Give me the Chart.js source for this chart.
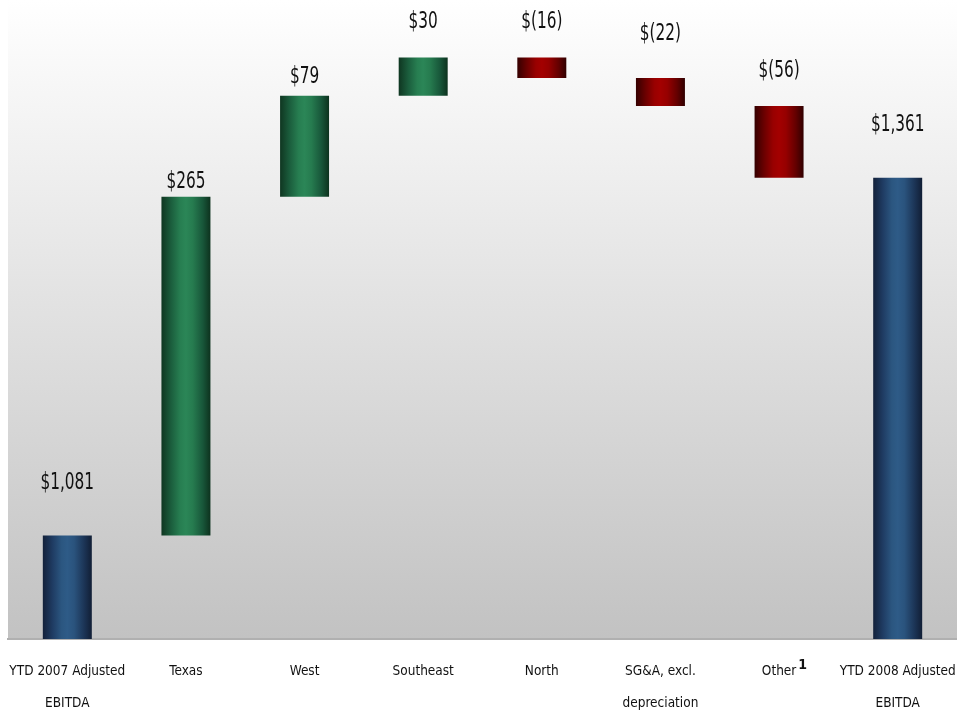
<!DOCTYPE html>
<html>
<head>
<meta charset="utf-8">
<script src="https://cdn.jsdelivr.net/npm/chart.js@4.4.1/dist/chart.umd.min.js"></script>
<style>
  html, body { margin: 0; padding: 0; background: #ffffff; }
  #wrap { width: 957px; height: 713px; position: relative; }
</style>
</head>
<body>
<div id="wrap"><canvas id="c" width="957" height="713"></canvas></div>
<script>
// ---- data ----
const categories = [
  ["YTD 2007 Adjusted", "EBITDA"],
  "Texas",
  "West",
  "Southeast",
  "North",
  ["SG&A, excl.", "depreciation"],
  "Other",
  ["YTD 2008 Adjusted", "EBITDA"]
];
const startValue = 1081;
const changes = [265, 79, 30, -16, -22, -56];
const endValue = 1361;
const barKinds = ["total", "change", "change", "change", "change", "change", "change", "total"];
const footnoteMarks = ["", "", "", "", "", "", "1", ""];
const yMin = 1000;
const yMax = 1500;

// ---- styles (not data) ----
const labelGap = [52, 15, 19, 35, 35, 44, 35, 53];
const FONT_NARROW = "'Liberation Sans Narrow', 'Arial Narrow', 'DejaVu Sans Condensed', sans-serif";

// build floating bar ranges
const ranges = [];
const labels = [];
ranges.push([yMin, startValue]);
labels.push("$" + startValue.toLocaleString("en-US"));
let run = startValue;
changes.forEach(d => {
  const next = run + d;
  ranges.push([Math.min(run, next), Math.max(run, next)]);
  labels.push(d >= 0 ? "$" + d : "$(" + Math.abs(d) + ")");
  run = next;
});
ranges.push([yMin, endValue]);
labels.push("$" + endValue.toLocaleString("en-US"));

const signs = [0].concat(changes.map(d => d >= 0 ? 1 : -1)).concat([0]);

const palettes = {
  blue:  ["#13213a", "#1f3c63", "#2b5680", "#2e5b87", "#2a537d", "#1c3557", "#111e35"],
  green: ["#0f3621", "#1b5e3d", "#277e51", "#2b8657", "#267b4f", "#18573a", "#0d321e"],
  red:   ["#340000", "#6c0000", "#990000", "#a30000", "#960000", "#640000", "#300000"]
};

function barColor(ctx) {
  const chart = ctx.chart;
  const i = ctx.dataIndex;
  const kind = barKinds[i] === "total" ? "blue" : (signs[i] > 0 ? "green" : "red");
  const pal = palettes[kind];
  const area = chart.chartArea;
  const xs = chart.scales.x;
  if (!area || !xs || xs.width === undefined) return pal[3];
  const cx = xs.getPixelForValue(i);
  const w = (area.right - area.left) / categories.length * 0.413;
  const g = chart.ctx.createLinearGradient(cx - w / 2, 0, cx + w / 2, 0);
  const stops = [0, 0.2, 0.38, 0.5, 0.64, 0.84, 1];
  stops.forEach((s, k) => g.addColorStop(s, pal[k]));
  return g;
}

const bgPlugin = {
  id: "plotBg",
  beforeDraw(chart) {
    const { ctx, chartArea: a } = chart;
    const g = ctx.createLinearGradient(0, a.top, 0, a.bottom);
    g.addColorStop(0, "#ffffff");
    g.addColorStop(1, "#c2c2c2");
    ctx.save();
    ctx.fillStyle = g;
    ctx.fillRect(a.left, a.top, a.right - a.left, a.bottom - a.top);
    ctx.restore();
  }
};

const labelPlugin = {
  id: "valueLabels",
  afterDatasetsDraw(chart) {
    const { ctx } = chart;
    const meta = chart.getDatasetMeta(0);
    const sx = 0.74;
    meta.data.forEach((bar, i) => {
      const top = Math.min(bar.y, bar.base);
      ctx.save();
      ctx.fillStyle = "#111111";
      ctx.textAlign = "center";
      ctx.textBaseline = "middle";
      ctx.font = "23px " + FONT_NARROW;
      ctx.translate(bar.x, top - labelGap[i]);
      ctx.scale(sx, 1);
      ctx.fillText(labels[i], 0, 0);
      ctx.restore();
    });
    // footnote superscripts on category labels
    const xs = chart.scales.x;
    ctx.save();
    ctx.fillStyle = "#111111";
    ctx.textBaseline = "middle";
    ctx.textAlign = "left";
    footnoteMarks.forEach((m, i) => {
      if (!m) return;
      const cx = xs.getPixelForValue(i);
      ctx.font = "13.5px " + FONT_NARROW;
      const w = ctx.measureText(Array.isArray(categories[i]) ? categories[i][0] : categories[i]).width;
      ctx.font = "bold 14px " + FONT_NARROW;
      ctx.fillText(m, cx + w / 2 + 2, 665);
    });
    ctx.restore();
  }
};

new Chart(document.getElementById("c"), {
  type: "bar",
  data: {
    labels: categories,
    datasets: [{
      data: ranges,
      backgroundColor: barColor,
      borderWidth: 0,
      borderSkipped: false,
      categoryPercentage: 1.0,
      barPercentage: 0.413
    }]
  },
  options: {
    responsive: false,
    animation: false,
    devicePixelRatio: 1,
    layout: { padding: { left: 8, right: 0, top: 0, bottom: 0 } },
    plugins: { legend: { display: false }, tooltip: { enabled: false } },
    scales: {
      y: { display: false, min: yMin, max: yMax },
      x: {
        grid: { display: false, drawTicks: false, tickLength: 0 },
        border: { display: true, color: "#b0b0b0", width: 2 },
        ticks: {
          color: "#111111",
          font: { family: FONT_NARROW, size: 13.5, lineHeight: 2.37 },
          padding: 17,
          maxRotation: 0,
          autoSkip: false
        },
        afterFit(scale) {
          scale.height = 74;
          scale.paddingLeft = 0;
          scale.paddingRight = 0;
        }
      }
    }
  },
  plugins: [bgPlugin, labelPlugin]
});
</script>
</body>
</html>
